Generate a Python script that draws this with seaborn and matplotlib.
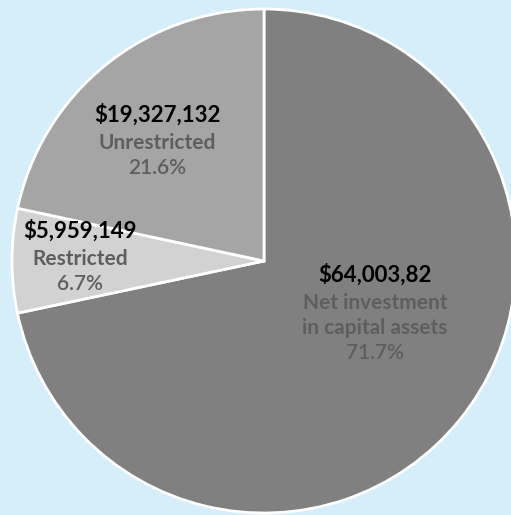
import matplotlib
matplotlib.use("Agg")
import matplotlib.pyplot as plt
import seaborn as sns

categories = ["Net investment\nin capital assets", "Restricted", "Unrestricted"]
values = [64003820, 5959149, 19327132]
value_labels = ["$64,003,82", "$5,959,149", "$19,327,132"]
pct_labels = ["71.7%", "6.7%", "21.6%"]
colors = ["#808080", "#d2d2d2", "#a5a5a5"]

sns.set_style("white")
plt.rcParams['font.family'] = ['Lato', 'DejaVu Sans']

W, H = 511, 515
fig = plt.figure(figsize=(W / 100, H / 100), dpi=100)
fig.patch.set_facecolor("#d5eefa")

cx, cy, R = 264, 261, 252
ax = fig.add_axes([(cx - R) / W, (H - cy - R) / H, 2 * R / W, 2 * R / H])
ax.set_facecolor("none")
ax.pie(values, colors=colors, startangle=90, counterclock=False, radius=1,
       wedgeprops=dict(edgecolor="white", linewidth=2))
ax.set_xlim(-1, 1)
ax.set_ylim(-1, 1)
ax.set_aspect("equal")
ax.axis("off")

def pos(px, py):
    return (px - cx) / R, (cy - py) / R

# text anchor positions in pixels (value line, label line(s) start)
anchors = [(375, 275), (80, 231), (157, 115)]
for (px, py), v, cat, p in zip(anchors, value_labels, categories, pct_labels):
    x, y = pos(px, py)
    ax.text(x, y, v, ha="center", va="center", fontsize=16, fontweight="bold", color="#000000")
    lines = cat.split("\n") + [p]
    for i, ln in enumerate(lines):
        x2, y2 = pos(px, py + 28 + i * 25)
        ax.text(x2, y2, ln, ha="center", va="center", fontsize=15,
                fontweight="bold" if ln != p else "semibold", color="#5e5e5e")

fig.savefig("out.png", dpi=100, facecolor=fig.get_facecolor())
